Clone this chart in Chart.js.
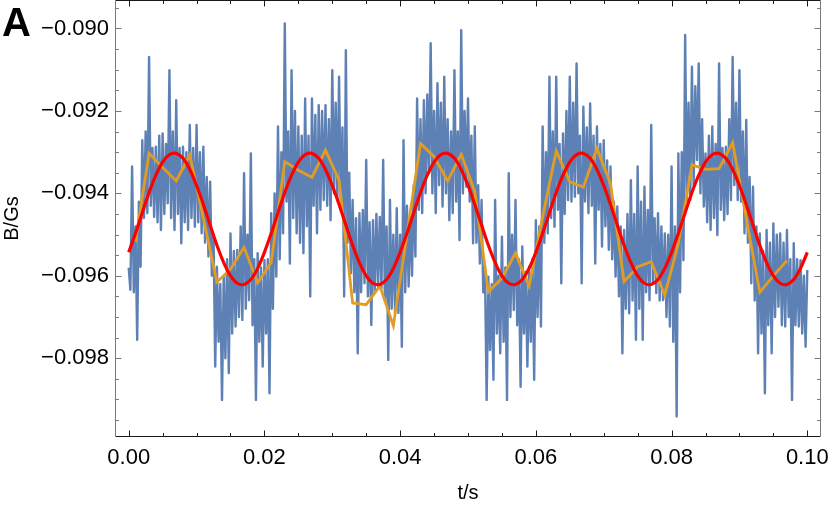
<!DOCTYPE html>
<html>
<head>
<meta charset="utf-8">
<script src="https://cdn.jsdelivr.net/npm/chart.js@4"></script>
<style>
  body { margin: 0; background: #fff; }
  #wrap { width: 830px; height: 507px; }
</style>
</head>
<body>
<div id="wrap"><canvas id="field"></canvas></div>
<script>
// raw magnetometer trace, sampled every 0.25 ms from t = 0
const rawStart = 0, rawStep = 0.00025;
const rawValues = [
  -0.09580,-0.09634, -0.09335,-0.09640, -0.09480,-0.09755, -0.09420,-0.09578, -0.09271,-0.09460,
  -0.09250,-0.09448, -0.09069,-0.09430, -0.09290,-0.09457, -0.09287,-0.09470, -0.09260,-0.09489,
  -0.09255,-0.09450, -0.09280,-0.09424, -0.09101,-0.09460, -0.09250,-0.09489, -0.09174,-0.09450,
  -0.09290,-0.09521, -0.09287,-0.09470, -0.09300,-0.09489, -0.09234,-0.09460, -0.09290,-0.09481,
  -0.09234,-0.09470, -0.09300,-0.09497, -0.09287,-0.09520, -0.09360,-0.09553, -0.09372,-0.09600,
  -0.09500,-0.09820, -0.09578,-0.09760, -0.09620,-0.09901, -0.09602,-0.09800, -0.09560,-0.09836,
  -0.09497,-0.09740, -0.09540,-0.09723, -0.09537,-0.09700, -0.09480,-0.09707, -0.09351,-0.09680,
  -0.09500,-0.09659, -0.09303,-0.09720, -0.09560,-0.09901, -0.09545,-0.09760, -0.09580,-0.09820,
  -0.09562,-0.09740, -0.09560,-0.09885, -0.09448,-0.09680, -0.09400,-0.09602, -0.09238,-0.09560,
  -0.09300,-0.09497, -0.08988,-0.09420, -0.09250,-0.09570, -0.09101,-0.09460, -0.09200,-0.09497,
  -0.09238,-0.09520, -0.09260,-0.09545, -0.09170,-0.09480, -0.09260,-0.09650, -0.09170,-0.09430,
  -0.09210,-0.09497, -0.09186,-0.09440, -0.09200,-0.09416, -0.09186,-0.09430, -0.09220,-0.09465,
  -0.09101,-0.09400, -0.09180,-0.09416, -0.09117,-0.09440, -0.09240,-0.09650, -0.09053,-0.09520,
  -0.09350,-0.09594, -0.09416,-0.09640, -0.09460,-0.09788, -0.09448,-0.09640, -0.09440,-0.09618,
  -0.09319,-0.09650, -0.09470,-0.09719, -0.09465,-0.09640, -0.09450,-0.09626, -0.09457,-0.09630,
  -0.09319,-0.09660, -0.09480,-0.09804, -0.09416,-0.09680, -0.09500,-0.09691, -0.09436,-0.09690,
  -0.09500,-0.09772, -0.09271,-0.09640, -0.09430,-0.09626, -0.09448,-0.09600, -0.09380,-0.09553,
  -0.09170,-0.09440, -0.09220,-0.09448, -0.09174,-0.09400, -0.09160,-0.09351, -0.09036,-0.09400,
  -0.09200,-0.09448, -0.09133,-0.09380, -0.09180,-0.09432, -0.09117,-0.09400, -0.09220,-0.09465,
  -0.09250,-0.09448, -0.09101,-0.09420, -0.09250,-0.09513, -0.09004,-0.09400, -0.09200,-0.09384,
  -0.09170,-0.09420, -0.09260,-0.09521, -0.09238,-0.09520, -0.09380,-0.09570, -0.09416,-0.09640,
  -0.09580,-0.09901, -0.09602,-0.09780, -0.09620,-0.09852, -0.09416,-0.09740, -0.09600,-0.09788,
  -0.09505,-0.09760, -0.09580,-0.09901, -0.09351,-0.09700, -0.09500,-0.09683, -0.09416,-0.09720,
  -0.09560,-0.09869, -0.09529,-0.09740, -0.09590,-0.09820, -0.09578,-0.09760, -0.09560,-0.09852,
  -0.09465,-0.09700, -0.09480,-0.09723, -0.09238,-0.09520, -0.09300,-0.09497, -0.09117,-0.09460,
  -0.09250,-0.09481, -0.09117,-0.09440, -0.09280,-0.09618, -0.09255,-0.09450, -0.09200,-0.09416,
  -0.09117,-0.09420, -0.09180,-0.09408, -0.09085,-0.09400, -0.09260,-0.09618, -0.09190,-0.09420,
  -0.09240,-0.09448, -0.09182,-0.09430, -0.09260,-0.09570, -0.09238,-0.09440, -0.09280,-0.09529,
  -0.09271,-0.09480, -0.09320,-0.09537, -0.09335,-0.09560, -0.09420,-0.09602, -0.09432,-0.09650,
  -0.09480,-0.09788, -0.09489,-0.09680, -0.09450,-0.09691, -0.09368,-0.09660, -0.09450,-0.09755,
  -0.09335,-0.09680, -0.09420,-0.09755, -0.09384,-0.09640, -0.09440,-0.09659, -0.09234,-0.09620,
  -0.09460,-0.09642, -0.09448,-0.09660, -0.09480,-0.09659, -0.09497,-0.09700, -0.09500,-0.09723,
  -0.09335,-0.09760, -0.09480,-0.09941, -0.09303,-0.09640, -0.09300,-0.09562, -0.09016,-0.09420,
  -0.09180,-0.09416, -0.09093,-0.09380, -0.09140,-0.09319, -0.09085,-0.09400, -0.09220,-0.09432,
  -0.09303,-0.09470, -0.09260,-0.09489, -0.09238,-0.09460, -0.09280,-0.09501, -0.09085,-0.09440,
  -0.09290,-0.09465, -0.09287,-0.09450, -0.09220,-0.09416, -0.09069,-0.09380, -0.09180,-0.09416,
  -0.09101,-0.09420, -0.09250,-0.09497, -0.09222,-0.09520, -0.09360,-0.09618, -0.09384,-0.09660,
  -0.09480,-0.09788, -0.09497,-0.09740, -0.09540,-0.09885, -0.09489,-0.09720, -0.09520,-0.09788,
  -0.09473,-0.09700, -0.09500,-0.09675, -0.09497,-0.09720, -0.09520,-0.09723, -0.09489,-0.09700,
  -0.09560,-0.09901, -0.09521,-0.09720, -0.09560,-0.09723, -0.09562,-0.09740, -0.09600,-0.09772,
  -0.09586
];

// 2 ms block averages
const avgStart = 0.001, avgStep = 0.002;
const avgValues = [
  -0.09517,-0.09303,-0.09337,-0.09370,-0.09307,-0.09460,-0.09615,-0.09584,-0.09531,-0.09617,
  -0.09568,-0.09323,-0.09344,-0.09361,-0.09295,-0.09368,-0.09666,-0.09670,-0.09625,-0.09721,
  -0.09500,-0.09279,-0.09311,-0.09370,-0.09305,-0.09396,-0.09639,-0.09606,-0.09545,-0.09625,
  -0.09457,-0.09297,-0.09372,-0.09385,-0.09291,-0.09376,-0.09614,-0.09578,-0.09566,-0.09647,
  -0.09521,-0.09331,-0.09342,-0.09340,-0.09277,-0.09460,-0.09640,-0.09600,-0.09563
];

// fitted curve, read every 1 ms
const fitStart = 0, fitStep = 0.001;
const fitValues = [
  -0.09543,-0.09497,-0.09447,-0.09398,-0.09356,-0.09324,-0.09306,-0.09303,-0.09315,-0.09342,
  -0.09381,-0.09427,-0.09477,-0.09526,-0.09568,-0.09600,-0.09618,-0.09621,-0.09609,-0.09582,
  -0.09543,-0.09497,-0.09447,-0.09398,-0.09356,-0.09324,-0.09306,-0.09303,-0.09315,-0.09342,
  -0.09381,-0.09427,-0.09477,-0.09526,-0.09568,-0.09600,-0.09618,-0.09621,-0.09609,-0.09582,
  -0.09543,-0.09497,-0.09447,-0.09398,-0.09356,-0.09324,-0.09306,-0.09303,-0.09315,-0.09342,
  -0.09381,-0.09427,-0.09477,-0.09526,-0.09568,-0.09600,-0.09618,-0.09621,-0.09609,-0.09582,
  -0.09543,-0.09497,-0.09447,-0.09398,-0.09356,-0.09324,-0.09306,-0.09303,-0.09315,-0.09342,
  -0.09381,-0.09427,-0.09477,-0.09526,-0.09568,-0.09600,-0.09618,-0.09621,-0.09609,-0.09582,
  -0.09543,-0.09497,-0.09447,-0.09398,-0.09356,-0.09324,-0.09306,-0.09303,-0.09315,-0.09342,
  -0.09381,-0.09427,-0.09477,-0.09526,-0.09568,-0.09600,-0.09618,-0.09621,-0.09609,-0.09582,
  -0.09543
];

const xTicks = [0, 0.02, 0.04, 0.06, 0.08, 0.10];
const yTicks = [-0.098, -0.096, -0.094, -0.092, -0.090];
const xMinorStep = 0.005, yMinorStep = 0.0005;

const font = 'Liberation Sans, Arial, sans-serif';

function toPoints(start, step, values) {
  return values.map((v, i) => ({ x: start + i * step, y: v }));
}

// frame with inward ticks on all four sides, plus the panel letter
const framePlugin = {
  id: 'frame',
  afterDraw(chart) {
    const { ctx, chartArea: a, scales: { x, y } } = chart;
    const L = a.left + 0.5, R = a.right - 0.5, T = a.top + 0.5, B = a.bottom - 0.5;
    ctx.save();
    ctx.lineWidth = 1;

    ctx.strokeStyle = '#1a1a1a';
    ctx.beginPath();
    ctx.moveTo(L, T); ctx.lineTo(R, T);
    ctx.moveTo(L, B); ctx.lineTo(R, B);
    for (let k = 0; k <= 20; k++) {
      const t = k * xMinorStep;
      const len = k % 4 === 0 ? 6 : 3.5;
      const px = Math.round(x.getPixelForValue(t)) + 0.5;
      ctx.moveTo(px, B); ctx.lineTo(px, B - len);
      ctx.moveTo(px, T); ctx.lineTo(px, T + len);
    }
    ctx.stroke();

    ctx.strokeStyle = '#7a7a7a';
    ctx.beginPath();
    ctx.moveTo(L, T); ctx.lineTo(L, B);
    ctx.moveTo(R, T); ctx.lineTo(R, B);
    for (let k = 0; k <= 20; k++) {
      const v = -0.0995 + k * yMinorStep;
      const len = (k - 3) % 4 === 0 ? 6 : 3.5;
      const py = Math.round(y.getPixelForValue(v)) + 0.5;
      ctx.moveTo(L, py); ctx.lineTo(L + len, py);
      ctx.moveTo(R, py); ctx.lineTo(R - len, py);
    }
    ctx.stroke();

    ctx.fillStyle = '#000';
    ctx.font = 'bold 40px ' + font;
    ctx.textBaseline = 'alphabetic';
    ctx.fillText('A', 2, 36);
    ctx.restore();
  }
};

new Chart(document.getElementById('field'), {
  type: 'line',
  data: {
    datasets: [
      {
        label: 'fit',
        data: toPoints(fitStart, fitStep, fitValues),
        borderColor: '#ff0000',
        borderWidth: 3.2,
        tension: 0.3,
        pointRadius: 0,
        order: 1
      },
      {
        label: 'average',
        data: toPoints(avgStart, avgStep, avgValues),
        borderColor: '#e19c24',
        borderWidth: 2.8,
        tension: 0,
        pointRadius: 0,
        order: 2
      },
      {
        label: 'raw',
        data: toPoints(rawStart, rawStep, rawValues),
        borderColor: '#5e81b5',
        borderWidth: 2.4,
        borderJoinStyle: 'round',
        tension: 0,
        pointRadius: 0,
        order: 3
      }
    ]
  },
  options: {
    responsive: true,
    maintainAspectRatio: false,
    animation: false,
    devicePixelRatio: 1,
    layout: { padding: { top: 0, left: 0, right: 9, bottom: 2 } },
    plugins: {
      legend: { display: false },
      tooltip: { enabled: false }
    },
    scales: {
      x: {
        type: 'linear',
        min: -0.00202,
        max: 0.10202,
        afterBuildTicks: s => { s.ticks = xTicks.map(v => ({ value: v })); },
        afterFit: s => { s.height = 68; s.paddingLeft = 0; s.paddingRight = 0; },
        grid: { display: false, drawTicks: false },
        border: { display: false },
        ticks: {
          font: { family: font, size: 22 },
          color: '#000',
          padding: 8,
          maxRotation: 0,
          callback: v => v.toFixed(2)
        },
        title: {
          display: true,
          text: 't/s',
          font: { family: font, size: 20 },
          color: '#000',
          padding: { top: 0, bottom: 0 }
        }
      },
      y: {
        type: 'linear',
        min: -0.09991,
        max: -0.08931,
        afterBuildTicks: s => { s.ticks = yTicks.map(v => ({ value: v })); },
        afterFit: s => { s.width = 115; s.paddingTop = 0; s.paddingBottom = 0; },
        grid: { display: false, drawTicks: false },
        border: { display: false },
        ticks: {
          font: { family: font, size: 22 },
          color: '#000',
          padding: 6,
          callback: v => v.toFixed(3).replace('-', '\u2212')
        },
        title: {
          display: true,
          text: 'B/Gs',
          font: { family: font, size: 20 },
          color: '#000',
          padding: { top: 0, bottom: 0 }
        }
      }
    }
  },
  plugins: [framePlugin]
});
</script>
</body>
</html>
